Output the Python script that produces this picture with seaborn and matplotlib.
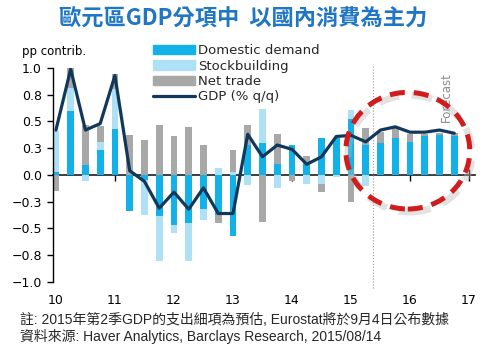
import numpy as np
import matplotlib
matplotlib.use("Agg")
import matplotlib.pyplot as plt
import seaborn as sns
from matplotlib.patches import Patch, Ellipse
from matplotlib.lines import Line2D
from matplotlib.ticker import NullFormatter

# ---------------- data ----------------
year_labels = ["10", "11", "12", "13", "14", "15", "16", "17"]
quarters = list(range(28))  # 2010Q1 .. 2016Q4
domestic = [0.03, 0.60, 0.09, 0.23, 0.43, -0.34, -0.05, -0.38, -0.47, -0.45, -0.32, -0.37, -0.57, 0.28,
            0.30, 0.10, 0.28, 0.10, 0.35, 0.35, 0.52, 0.28, 0.30, 0.35, 0.31, 0.36, 0.37, 0.36]
stockbuilding = [0.38, 0.21, -0.06, 0.08, 0.37, 0.00, -0.32, -0.42, -0.07, -0.35, -0.10, 0.07, 0.03, -0.09,
                 0.32, -0.12, 0.00, -0.08, -0.08, -0.02, 0.09, -0.10, 0.00, 0.00, 0.00, 0.00, 0.00, 0.00]
net_trade = [-0.15, 0.19, 0.38, 0.15, 0.14, 0.37, 0.33, 0.47, 0.36, 0.45, 0.28, -0.08, 0.20, 0.19,
             -0.44, 0.28, -0.06, 0.08, -0.08, 0.00, -0.25, 0.16, 0.10, 0.09, 0.07, 0.02, 0.02, 0.03]
gdp = [0.42, 0.99, 0.42, 0.48, 0.93, 0.04, -0.06, -0.31, -0.16, -0.32, -0.12, -0.36, -0.36, 0.38,
       0.17, 0.28, 0.24, 0.10, 0.17, 0.36, 0.37, 0.31, 0.42, 0.45, 0.40, 0.40, 0.42, 0.39]
y_ticks = [-1.0, -0.75, -0.5, -0.25, 0.0, 0.25, 0.5, 0.75, 1.0]
y_tick_labels = ["\u22121.0", "\u22120.8", "\u22120.5", "\u22120.3", "0.0", "0.3", "0.5", "0.8", "1.0"]
series_names = ["Domestic demand", "Stockbuilding", "Net trade", "GDP (% q/q)"]
forecast_start = 21.5

title = "歐元區GDP分項中  以國內消費為主力"
note1 = "註: 2015年第2季GDP的支出細項為預估, Eurostat將於9月4日公布數據"
note2 = "資料來源: Haver Analytics, Barclays Research, 2015/08/14"

# ---------------- style ----------------
sns.set_theme(style="white")
plt.rcParams["font.family"] = ["DejaVu Sans", "Noto Sans CJK TC"]

c_dom = "#12b2e8"
c_stock = "#aee1f6"
c_net = "#a8a8a8"
c_gdp = "#11385a"

fig = plt.figure(figsize=(4.97, 3.51), dpi=100)
fig.patch.set_facecolor("white")
ax = fig.add_axes([0.1066, 0.1966, 0.849, 0.6097])

x = np.array(quarters, dtype=float)
pos_b = np.zeros(len(x))
neg_b = np.zeros(len(x))
for vals, col in [(domestic, c_dom), (stockbuilding, c_stock), (net_trade, c_net)]:
    v = np.array(vals)
    bottom = np.where(v >= 0, pos_b, neg_b)
    ax.bar(x, v, bottom=bottom, width=0.46, color=col, linewidth=0, zorder=2)
    pos_b = pos_b + np.where(v >= 0, v, 0)
    neg_b = neg_b + np.where(v < 0, v, 0)

sns.lineplot(x=x, y=gdp, color=c_gdp, linewidth=2.3, ax=ax, zorder=5)

ax.set_xlim(-0.2, 28.4)
ax.set_ylim(-1, 1)
ax.set_yticks(y_ticks)
ax.set_yticklabels(y_tick_labels)
ax.set_xticks(range(0, 29, 4))
ax.set_xticklabels(year_labels)
ax.tick_params(axis="x", length=0, pad=9, labelsize=9, colors="black")
ax.tick_params(axis="y", left=True, length=4, width=1, direction="out", pad=4, labelsize=9, colors="black")
for s in ["top", "right", "bottom"]:
    ax.spines[s].set_visible(False)
ax.spines["left"].set_color("black")
ax.spines["left"].set_linewidth(1)
ax.grid(False)

# zero line with year ticks
sec = ax.secondary_xaxis(0.5)
sec.set_xticks(range(0, 29, 4))
sec.xaxis.set_major_formatter(NullFormatter())
sec.tick_params(axis="x", bottom=True, length=4, width=1, direction="out", labelbottom=False, colors="black")
sec.spines["bottom"].set_color("black")
sec.spines["bottom"].set_linewidth(1)

# forecast marker
ax.axvline(forecast_start, ymin=-0.03, ymax=1.02, color="#9a9a9a", lw=0.8, ls=":", clip_on=False, zorder=3)
ax.text(26.45, 0.73, "Forecast", rotation=90, ha="center", va="center", color="#8a8a8a", fontsize=8.5, zorder=4)

# red dashed highlight with shadow
shadow = Ellipse((24.0, 0.20), 8.4, 1.09, fill=False, edgecolor="#b8b8b8", lw=5, alpha=0.4,
                 linestyle=(0, (3, 1.8)), zorder=6)
ax.add_patch(shadow)
ring = Ellipse((23.85, 0.227), 8.4, 1.09, fill=False, edgecolor="#d01c1c", lw=3.6,
               linestyle=(0, (3, 1.8)), zorder=7)
ax.add_patch(ring)

# legend
handles = [Patch(color=c_dom), Patch(color=c_stock), Patch(color=c_net), Line2D([], [], color=c_gdp, lw=2.3)]
fig.legend(handles, series_names, loc="upper left", bbox_to_anchor=(0.308, 0.874), frameon=False,
           fontsize=9.5, handlelength=3.2, handletextpad=0.2, labelspacing=0.18, borderpad=0, borderaxespad=0)

fig.text(22 / 497, 1 - 52 / 351, "pp contrib.", fontsize=8.5, va="center", ha="left", color="black")
fig.text(243.5 / 497, 1 - 19 / 351, title, fontsize=16, fontweight="bold", color="#1f76c4",
         ha="center", va="center", family=["Noto Sans CJK TC", "DejaVu Sans"])
fig.text(20 / 497, 1 - 320 / 351, note1, fontsize=10, va="center", ha="left",
         family=["Liberation Sans", "Noto Sans CJK TC"])
fig.text(20 / 497, 1 - 336 / 351, note2, fontsize=10, va="center", ha="left",
         family=["Liberation Sans", "Noto Sans CJK TC"])

fig.savefig("out.png", dpi=100, facecolor="white")
